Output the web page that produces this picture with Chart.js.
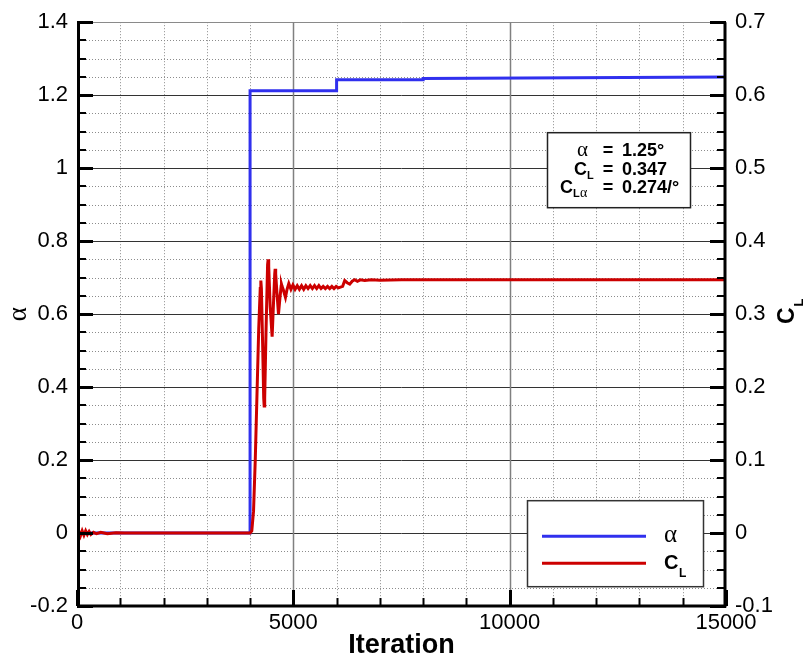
<!DOCTYPE html>
<html>
<head>
<meta charset="utf-8">
<title>Angle of attack and lift coefficient history</title>
<script src="https://cdn.jsdelivr.net/npm/chart.js@4/dist/chart.umd.min.js"></script>
<style>
  html, body { margin: 0; padding: 0; background: #fff; }
  canvas { display: block; }
</style>
</head>
<body>
<canvas id="c" width="811" height="662"></canvas>
<script>
// Angle of attack (alpha) trim history
const alphaIter = [0, 4000, 4000, 6000, 6000, 8000, 8000, 15000];
const alphaVal  = [0, 0, 1.212, 1.212, 1.242, 1.242, 1.246, 1.25];

// Lift coefficient history
const clIter = [0, 40, 80, 120, 160, 200, 240, 280, 320, 380, 450, 550, 700, 900, 1100,
  4000, 4040, 4080, 4120, 4160, 4200, 4235, 4249, 4262, 4290, 4315, 4326, 4338, 4370, 4405, 4418, 4431,
  4465, 4510, 4545, 4570, 4580, 4592, 4620, 4657, 4690, 4718, 4726, 4740, 4770, 4818, 4855, 4895,
  4945, 4990, 5040, 5090, 5140, 5190, 5240, 5290, 5340, 5390, 5440, 5490, 5540, 5590, 5640, 5690,
  5740, 5790, 5840, 5890, 5940, 5990, 6040, 6090, 6140, 6188, 6245, 6304, 6360, 6419, 6480, 6550,
  6650, 6800, 7000, 7500, 8000, 9000, 10000, 12000, 15000];
const clVal = [0, 0.003, -0.004, 0.003, -0.003, 0.003, -0.002, 0.002, -0.002, 0.001, -0.001, 0.001, -0.001, 0.0005, 0,
  0, 0.003, 0.03, 0.1, 0.19, 0.28, 0.335, 0.346, 0.335, 0.26, 0.185, 0.174, 0.185, 0.28, 0.368, 0.375, 0.365,
  0.31, 0.269, 0.32, 0.355, 0.362, 0.355, 0.33, 0.300, 0.322, 0.338, 0.341, 0.338, 0.333, 0.323, 0.334, 0.342,
  0.334, 0.340, 0.334, 0.339, 0.334, 0.339, 0.334, 0.339, 0.335, 0.339, 0.335, 0.339, 0.335, 0.339, 0.335, 0.338,
  0.335, 0.338, 0.335, 0.338, 0.335, 0.338, 0.336, 0.337, 0.338, 0.346, 0.343, 0.341, 0.345, 0.347, 0.345, 0.347,
  0.346, 0.347, 0.3465, 0.347, 0.347, 0.347, 0.347, 0.347, 0.347];

// Axis ticks and their labels
const xTicks  = [0, 5000, 10000, 15000];
const xLabels = ['0', '5000', '10000', '15000'];
const yTicks  = [-0.2, 0, 0.2, 0.4, 0.6, 0.8, 1, 1.2, 1.4];
const yLabels = ['-0.2', '0', '0.2', '0.4', '0.6', '0.8', '1', '1.2', '1.4'];
const y1Ticks  = [-0.1, 0, 0.1, 0.2, 0.3, 0.4, 0.5, 0.6, 0.7];
const y1Labels = ['-0.1', '0', '0.1', '0.2', '0.3', '0.4', '0.5', '0.6', '0.7'];

// Converged values shown in the summary box
const summary = { alpha: '1.25\u00b0', cl: '0.347', clAlpha: '0.274/\u00b0' };

const BLUE = '#3030ee';
const RED = '#cc0000';
const SANS = '"Liberation Sans", Arial, Helvetica, sans-serif';
const SERIF = '"Liberation Serif", "Times New Roman", serif';

const X_MINOR = 1000, Y_MINOR = 0.05, Y1_MINOR = 0.025;

function seg(ctx, x1, y1, x2, y2) {
  ctx.beginPath(); ctx.moveTo(x1, y1); ctx.lineTo(x2, y2); ctx.stroke();
}

const frame = {
  id: 'frame',
  beforeDatasetsDraw(chart) {
    const { ctx, chartArea: a, scales: { x, y } } = chart;
    ctx.save();
    // dotted minor grid
    ctx.strokeStyle = '#8c8c8c';
    ctx.lineWidth = 1;
    ctx.setLineDash([1, 2]);
    for (let i = 1; i < 15; i++) {
      if (i % 5 === 0) continue;
      const px = Math.round(x.getPixelForValue(i * X_MINOR)) + 0.5;
      seg(ctx, px, a.top, px, a.bottom);
    }
    for (let i = 1; i < 32; i++) {
      if (i % 4 === 0) continue;
      const py = Math.round(y.getPixelForValue(-0.2 + i * Y_MINOR)) + 0.5;
      seg(ctx, a.left, py, a.right, py);
    }
    ctx.setLineDash([]);
    // solid major grid
    yTicks.forEach(v => {
      if (v === -0.2) return;
      const py = Math.round(y.getPixelForValue(v)) + 0.5;
      ctx.strokeStyle = v === 1.4 ? '#8a8a8a' : '#333';
      seg(ctx, a.left, py, a.right, py);
    });
    ctx.strokeStyle = '#808080';
    ctx.lineWidth = 1.5;
    xTicks.forEach(v => {
      if (v === 0 || v === 15000) return;
      const px = Math.round(x.getPixelForValue(v)) + 0.5;
      seg(ctx, px, a.top, px, a.bottom);
    });
    ctx.restore();
  },
  afterDatasetsDraw(chart) {
    const { ctx, chartArea: a, scales: { x, y, y1 } } = chart;
    ctx.save();
    ctx.strokeStyle = '#000';
    // inward tick marks
    ctx.lineWidth = 2;
    for (let i = 1; i < 32; i++) {
      if (i % 4 === 0) continue;
      const py = Math.round(y.getPixelForValue(-0.2 + i * Y_MINOR));
      seg(ctx, a.left, py, a.left + 9, py);
    }
    for (let i = 1; i < 32; i++) {
      if (i % 4 === 0) continue;
      const py = Math.round(y1.getPixelForValue(-0.1 + i * Y1_MINOR));
      seg(ctx, a.right - 9, py, a.right, py);
    }
    for (let i = 1; i < 15; i++) {
      if (i % 5 === 0) continue;
      const px = Math.round(x.getPixelForValue(i * X_MINOR)) + 0.5;
      seg(ctx, px, a.bottom, px, a.bottom - 8);
    }
    ctx.lineWidth = 3;
    yTicks.forEach(v => {
      const py = Math.round(y.getPixelForValue(v)) + 0.5;
      seg(ctx, a.left, py, a.left + 16, py);
    });
    y1Ticks.forEach(v => {
      const py = Math.round(y1.getPixelForValue(v)) + 0.5;
      seg(ctx, a.right - 16, py, a.right, py);
    });
    xTicks.forEach(v => {
      const px = Math.round(x.getPixelForValue(v)) + 0.5;
      seg(ctx, px, a.bottom, px, a.bottom - 16);
    });
    // axis lines (left, right, bottom)
    ctx.lineWidth = 3;
    seg(ctx, a.left + 1.5, a.top, a.left + 1.5, a.bottom + 1.5);
    seg(ctx, a.right - 1, a.top, a.right - 1, a.bottom + 1.5);
    seg(ctx, a.left, a.bottom, a.right, a.bottom);

    // summary box
    const bx = a.right - 179, by = a.top + 110, bw = 143, bh = 75;
    ctx.fillStyle = '#fff';
    ctx.fillRect(bx, by, bw, bh);
    ctx.strokeStyle = '#222';
    ctx.lineWidth = 1.5;
    ctx.strokeRect(bx + 0.5, by + 0.5, bw, bh);
    ctx.fillStyle = '#000';
    const labR = bx + 41, eqX = bx + 61, valL = bx + 75;
    const rows = [by + 24, by + 42.5, by + 61];
    ctx.textBaseline = 'alphabetic';
    // row 1: alpha
    ctx.font = '21px ' + SERIF; ctx.textAlign = 'right';
    ctx.fillText('\u03b1', labR, rows[0]);
    // row 2: C_L
    ctx.font = 'bold 18px ' + SANS; ctx.textAlign = 'right';
    ctx.fillText('C', labR - 1, rows[1]);
    ctx.font = 'bold 11px ' + SANS; ctx.textAlign = 'left';
    ctx.fillText('L', labR - 1, rows[1] + 4);
    // row 3: C_L_alpha
    ctx.font = 'bold 18px ' + SANS; ctx.textAlign = 'right';
    ctx.fillText('C', labR - 15, rows[2]);
    ctx.font = 'bold 11px ' + SANS; ctx.textAlign = 'left';
    ctx.fillText('L', labR - 15, rows[2] + 4);
    ctx.font = '14px ' + SERIF;
    ctx.fillText('\u03b1', labR - 8, rows[2] + 4);
    // equals signs and values
    ctx.font = 'bold 18px ' + SANS;
    rows.forEach(r => { ctx.textAlign = 'center'; ctx.fillText('=', eqX, r); });
    ctx.textAlign = 'left';
    ctx.fillText(summary.alpha, valL, rows[0]);
    ctx.fillText(summary.cl, valL, rows[1]);
    ctx.fillText(summary.clAlpha, valL, rows[2]);

    // legend
    const lx = a.right - 199, ly = a.top + 478, lw = 176, lh = 86;
    ctx.fillStyle = '#fff';
    ctx.fillRect(lx, ly, lw, lh);
    ctx.strokeStyle = '#333';
    ctx.lineWidth = 1.5;
    ctx.strokeRect(lx + 0.5, ly + 0.5, lw, lh);
    const ds = chart.data.datasets;
    const alphaDs = ds.find(d => d.yAxisID === 'y');
    const clDs = ds.find(d => d.yAxisID === 'y1');
    ctx.lineWidth = 3;
    ctx.strokeStyle = alphaDs.borderColor;
    seg(ctx, lx + 15, ly + 36, lx + 119, ly + 36);
    ctx.strokeStyle = clDs.borderColor;
    seg(ctx, lx + 15, ly + 63, lx + 119, ly + 63);
    ctx.fillStyle = '#000';
    ctx.textAlign = 'left';
    ctx.font = '25px ' + SERIF;
    ctx.fillText('\u03b1', lx + 137, ly + 42);
    ctx.font = 'bold 20px ' + SANS;
    ctx.fillText('C', lx + 137, ly + 69);
    ctx.font = 'bold 12px ' + SANS;
    ctx.fillText('L', lx + 152, ly + 77);
    ctx.restore();
  },
  afterDraw(chart) {
    // right axis title C_L, rotated
    const { ctx } = chart;
    ctx.save();
    ctx.translate(794, 324);
    ctx.rotate(-Math.PI / 2);
    ctx.fillStyle = '#000';
    ctx.textAlign = 'left';
    ctx.textBaseline = 'alphabetic';
    ctx.font = 'bold 23px ' + SANS;
    ctx.fillText('C', 0, 0);
    const w = ctx.measureText('C').width;
    ctx.font = 'bold 13px ' + SANS;
    ctx.fillText('L', w + 1, 9);
    ctx.restore();
  }
};

const tickFont = { family: SANS, size: 22 };

new Chart(document.getElementById('c'), {
  type: 'line',
  data: {
    datasets: [
      {
        label: 'C_L',
        data: clIter.map((it, i) => ({ x: it, y: clVal[i] })),
        yAxisID: 'y1',
        borderColor: RED,
        borderWidth: 3,
        pointRadius: 0,
        tension: 0,
        fill: false,
        order: 0
      },
      {
        label: '\u03b1',
        data: alphaIter.map((it, i) => ({ x: it, y: alphaVal[i] })),
        yAxisID: 'y',
        borderColor: BLUE,
        borderWidth: 3,
        pointRadius: 0,
        tension: 0,
        fill: false,
        order: 1
      }
    ]
  },
  options: {
    responsive: false,
    animation: false,
    events: [],
    layout: { padding: { top: 18, left: 0, right: 0, bottom: 0 } },
    plugins: { legend: { display: false }, tooltip: { enabled: false } },
    scales: {
      x: {
        type: 'linear', min: 0, max: 15000,
        afterBuildTicks: s => { s.ticks = xTicks.map(v => ({ value: v })); },
        afterFit: s => { s.height = 56; },
        grid: { display: false, drawTicks: false },
        border: { display: false },
        ticks: { font: tickFont, color: '#000', padding: 4, maxRotation: 0, autoSkip: false,
                 callback: (v, i) => xLabels[i] },
        title: { display: true, text: 'Iteration', color: '#000', padding: 0,
                 font: { family: SANS, size: 27, weight: 'bold', lineHeight: 1.2 } }
      },
      y: {
        type: 'linear', position: 'left', min: -0.2, max: 1.4,
        afterBuildTicks: s => { s.ticks = yTicks.map(v => ({ value: v })); },
        afterFit: s => { s.width = 77; },
        grid: { display: false, drawTicks: false },
        border: { display: false },
        ticks: { font: tickFont, color: '#000', padding: 9, autoSkip: false,
                 callback: (v, i) => yLabels[i] },
        title: { display: true, text: '\u03b1', color: '#000', padding: { top: 3, bottom: 0 },
                 font: { family: SERIF, size: 27, lineHeight: 1.2 } }
      },
      y1: {
        type: 'linear', position: 'right', min: -0.1, max: 0.7,
        afterBuildTicks: s => { s.ticks = y1Ticks.map(v => ({ value: v })); },
        afterFit: s => { s.width = 85; },
        grid: { display: false, drawTicks: false },
        border: { display: false },
        ticks: { font: tickFont, color: '#000', padding: 9, autoSkip: false,
                 callback: (v, i) => y1Labels[i] }
      }
    }
  },
  plugins: [frame]
});
</script>
</body>
</html>
